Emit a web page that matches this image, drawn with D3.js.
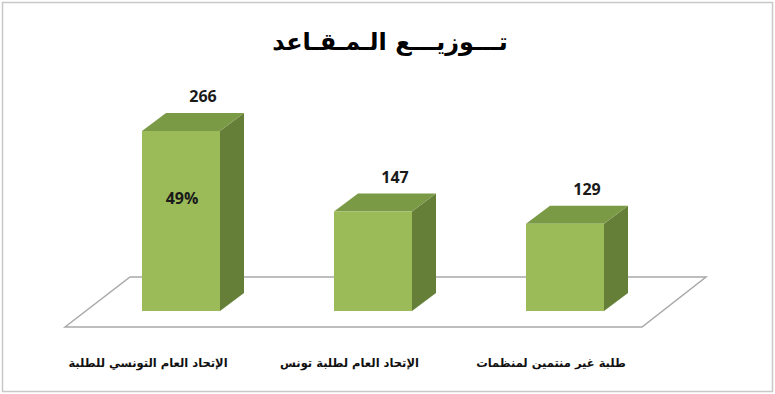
<!DOCTYPE html>
<html lang="ar">
<head>
<meta charset="UTF-8">
<title>توزيع المقاعد</title>
<script src="https://d3js.org/d3.v7.min.js"></script>
<style>
  body { margin: 0; background: #fff; }
  svg { display: block; }
  .num { font-family: "Open Sans", sans-serif; font-weight: bold; font-size: 16px; fill: #1a1a1a; }
  .cat { font-family: "DejaVu Sans", sans-serif; font-size: 11.5px; font-weight: bold; fill: #111; }
  .title { font-family: "DejaVu Sans", sans-serif; font-size: 24px; font-weight: bold; fill: #000; }
</style>
</head>
<body>
<div id="chart"></div>
<script>
const categories = ["الإتحاد العام التونسي للطلبة", "الإتحاد العام لطلبة تونس", "طلبة غير منتمين لمنظمات"];
const seats = [266, 147, 129];
const titleText = "تـــوزيـــع الـمـقـاعد";

const W = 775, H = 394;
const depth = { dx: 24, dy: -18 };
const barW = 78;

const svg = d3.select("#chart").append("svg")
    .attr("width", W).attr("height", H);

// outer frame
svg.append("rect")
    .attr("x", 2.5).attr("y", 2.5)
    .attr("width", W - 5).attr("height", H - 5)
    .attr("fill", "#fff")
    .attr("stroke", "#c8c8c8").attr("stroke-width", 1.5);

svg.append("text")
    .attr("class", "title")
    .attr("x", 390).attr("y", 50)
    .attr("text-anchor", "middle")
    .text(titleText);

const x = d3.scalePoint().domain(categories).range([181, 565]);
const y = d3.scaleLinear().domain([0, 300]).range([311, 108]);

// floor (3D plane)
const floor = [[65, 327], [130, 277], [706, 277], [642, 327]];
svg.append("path")
    .attr("d", d3.line()(floor) + "Z")
    .attr("fill", "none")
    .attr("stroke", "#a9a9a9")
    .attr("stroke-width", 1.5);

const data = categories.map((c, i) => ({ cat: c, v: seats[i] }));
const total = d3.sum(seats);

const bars = svg.selectAll(".bar").data(data).enter().append("g").attr("class", "bar");

// side face
bars.append("path")
    .attr("fill", "#657f38")
    .attr("d", d => {
        const x1 = x(d.cat) + barW / 2, y0 = y(0), y1 = y(d.v);
        return d3.line()([[x1, y1], [x1 + depth.dx, y1 + depth.dy], [x1 + depth.dx, y0 + depth.dy], [x1, y0]]) + "Z";
    });

// top face
bars.append("path")
    .attr("fill", "#7b9a46")
    .attr("d", d => {
        const x0 = x(d.cat) - barW / 2, x1 = x(d.cat) + barW / 2, y1 = y(d.v);
        return d3.line()([[x0, y1], [x0 + depth.dx, y1 + depth.dy], [x1 + depth.dx, y1 + depth.dy], [x1, y1]]) + "Z";
    });

// front face
bars.append("rect")
    .attr("fill", "#9bbb59")
    .attr("x", d => x(d.cat) - barW / 2)
    .attr("y", d => y(d.v))
    .attr("width", barW)
    .attr("height", d => y(0) - y(d.v));

bars.append("text")
    .attr("class", "num")
    .attr("text-anchor", "middle")
    .attr("x", d => x(d.cat) + 22)
    .attr("y", d => y(d.v) + depth.dy - 11)
    .text(d => d.v);

// share of the first bar
svg.append("text")
    .attr("class", "num")
    .attr("text-anchor", "middle")
    .attr("x", x(categories[0]) + 1)
    .attr("y", 204)
    .text(d3.format(".0%")(seats[0] / total));

// category labels along the front edge of the floor
const labelX = d3.scalePoint().domain(categories).range([148, 551]);
svg.selectAll(".cat").data(categories).enter().append("text")
    .attr("class", "cat")
    .attr("text-anchor", "middle")
    .attr("x", d => labelX(d))
    .attr("y", 367)
    .text(d => d);
</script>
</body>
</html>
